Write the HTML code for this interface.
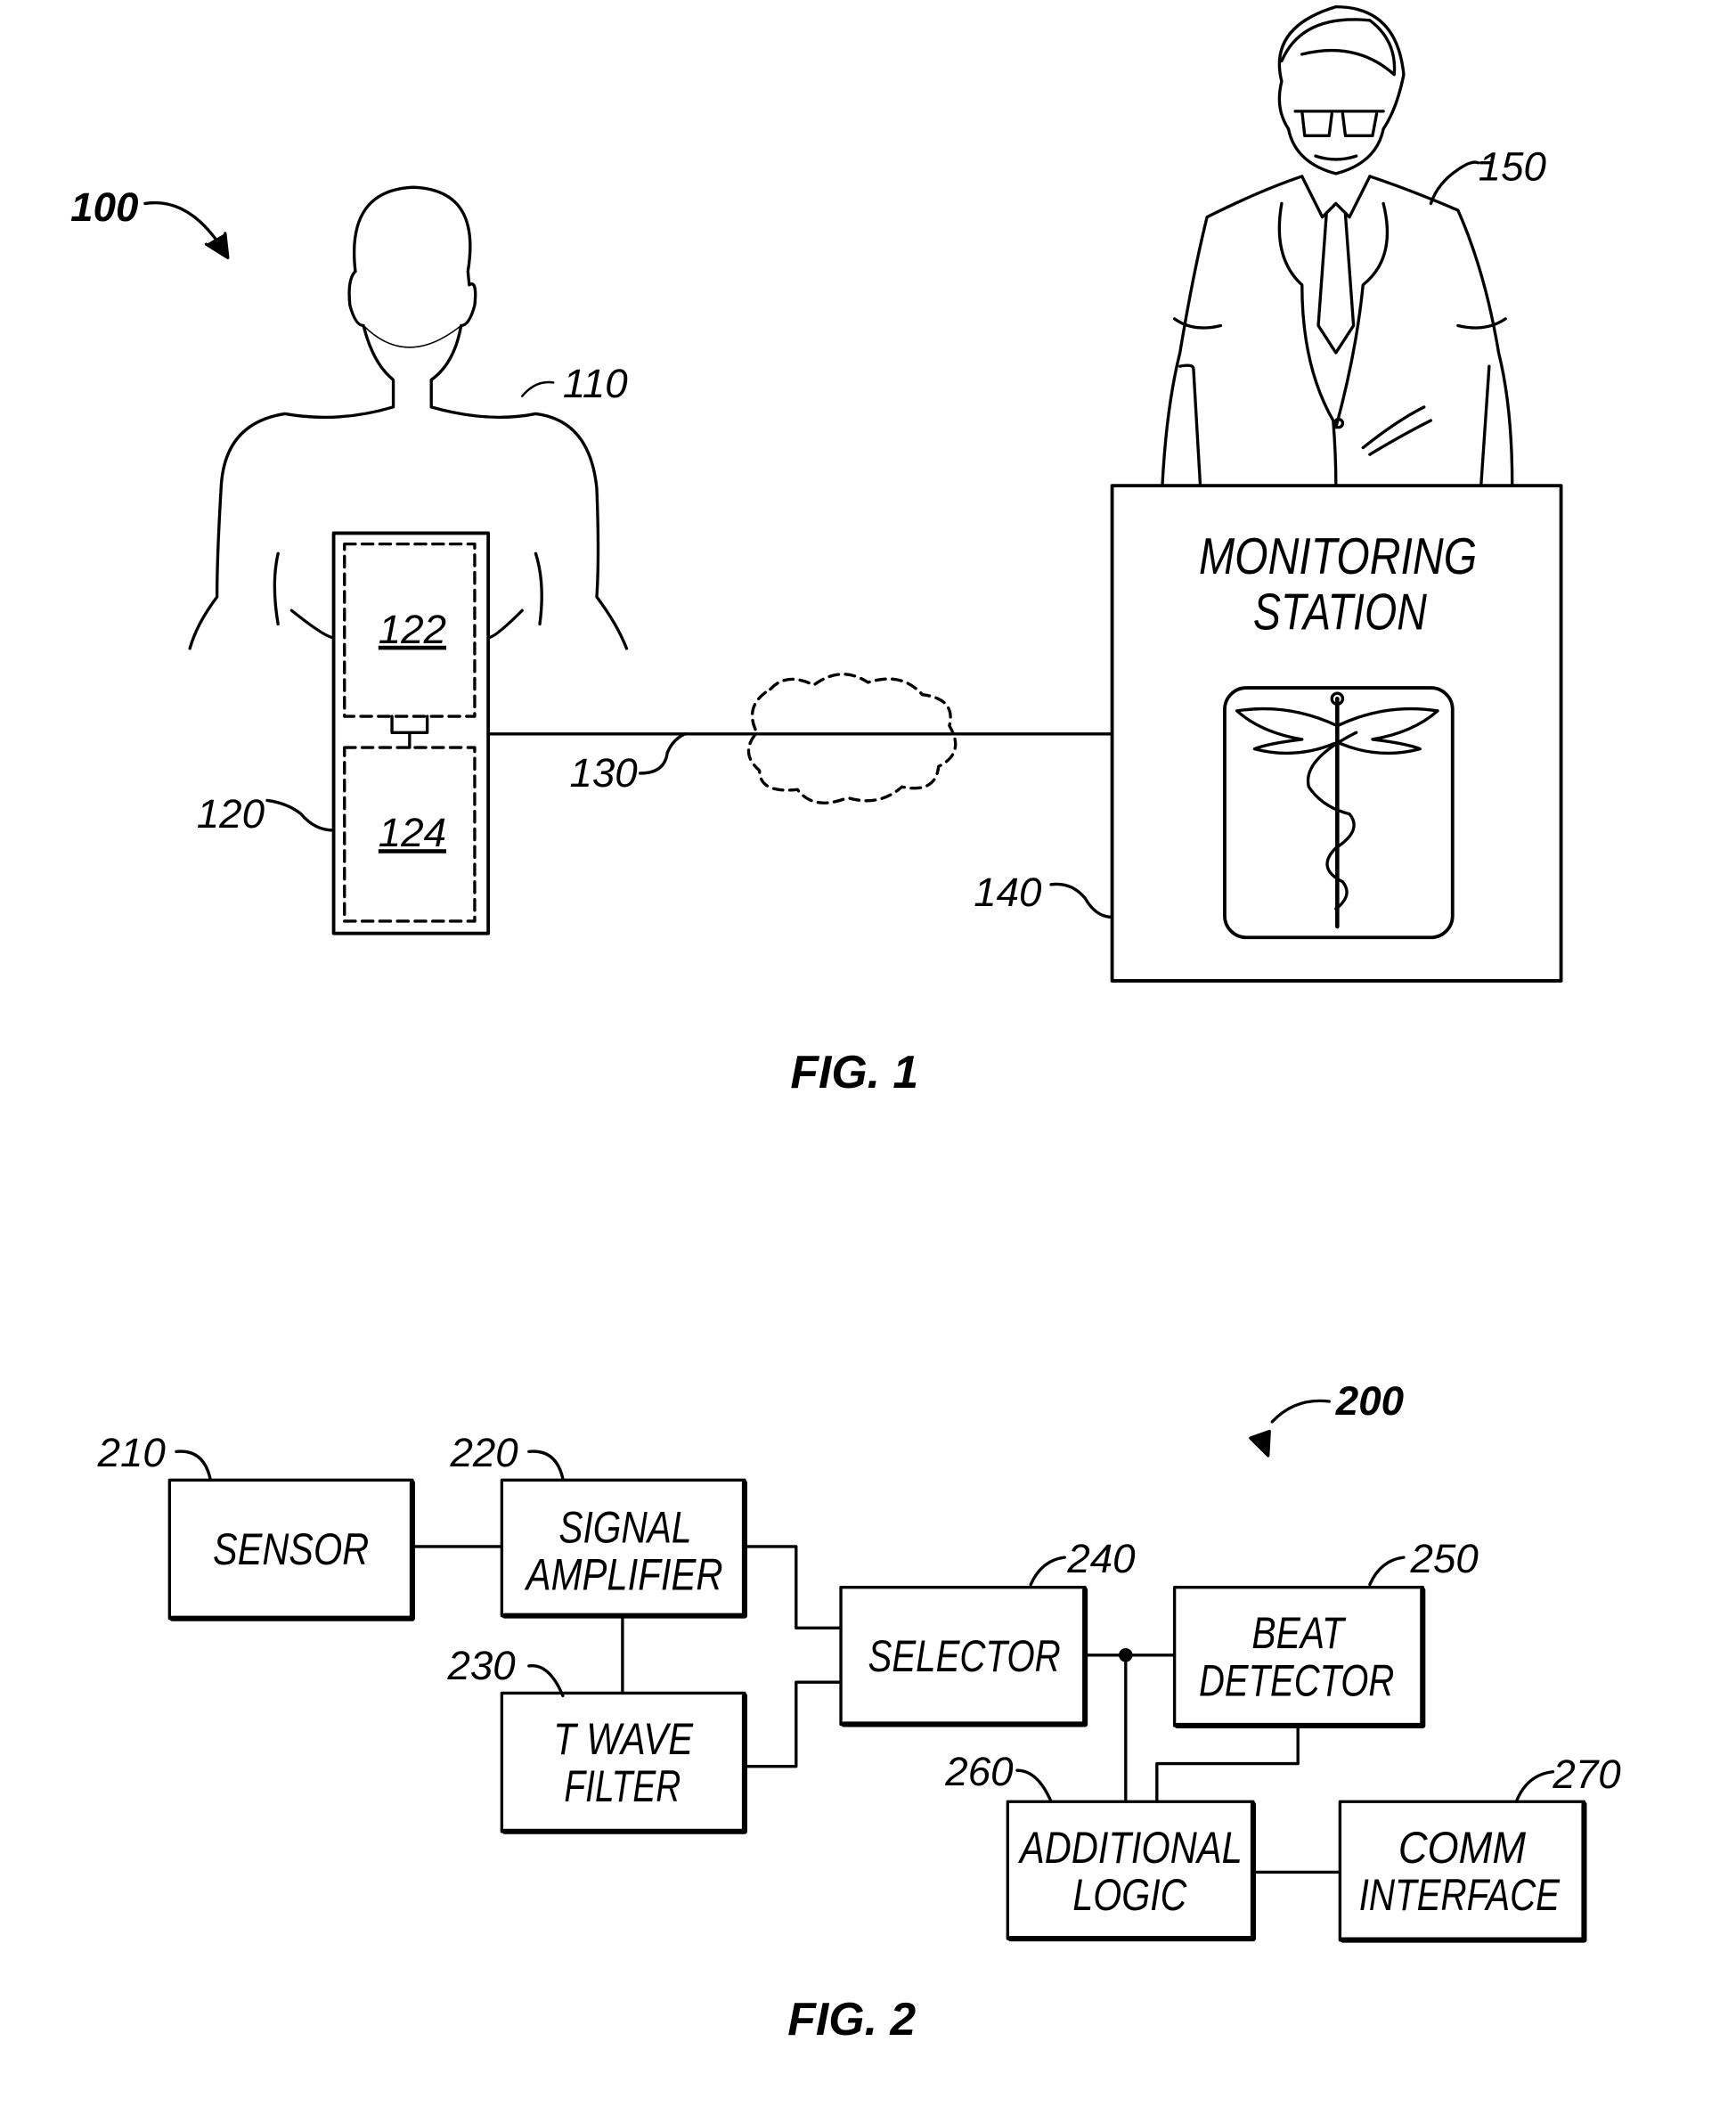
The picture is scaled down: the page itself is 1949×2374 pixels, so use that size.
<!DOCTYPE html>
<html><head><meta charset="utf-8"><style>
html,body{margin:0;padding:0;background:#fff}
svg{display:block}
text{font-family:"Liberation Sans",sans-serif;font-style:italic;fill:#000}
</style></head><body>
<svg width="1949" height="2374" viewBox="0 0 1280 1559" preserveAspectRatio="none" xmlns="http://www.w3.org/2000/svg">
<g fill="none" stroke="#000" stroke-width="2.2" stroke-linecap="round" stroke-linejoin="round">
<path d="M107 150 Q140 145 165 185"/>
<path d="M152 180 L168 190 L166 172" fill="#000"/>
<path d="M262 200 Q255 140 305 138 Q355 140 345 200 L346 210 Q352 206 350 225 Q346 240 340 240 Q335 268 318 280 L318 300 Q360 312 395 305 Q435 310 440 360 Q442 410 440 440 Q455 460 462 478"/>
<path d="M262 200 Q256 206 258 225 Q262 240 268 240 Q275 268 290 280 L290 300 Q250 312 210 305 Q165 312 163 360 Q160 410 160 440 Q145 460 140 478"/>
<path d="M268 240 Q300 272 340 240" stroke-width="1"/>
<path d="M385 292 Q395 280 408 282" stroke-width="1.6"/>
<path d="M205 408 Q200 430 205 460 M395 408 Q402 430 398 460 M215 450 Q240 470 246 470 M385 450 Q365 470 360 470"/>
<rect x="246" y="393" width="114" height="295" stroke-width="2.5"/>
<rect x="254" y="401" width="96" height="127" stroke-dasharray="8,5"/>
<rect x="254" y="551" width="96" height="128" stroke-dasharray="8,5"/>
<path d="M289 528 L289 540 L315 540 L315 528 M302 540 L302 551"/>
<path d="M197 590 Q212 592 222 600 Q232 612 246 612"/>
<path d="M360 541 L820 541"/>
<path d="M472 570 Q490 570 492 555 Q496 545 505 541"/>
<path d="M568 508 Q580 495 600 505 Q620 490 640 503 Q665 495 680 512 Q705 515 700 535 Q712 555 692 565 Q690 585 665 580 Q648 595 625 588 Q600 598 588 582 Q560 585 560 568 Q545 555 558 540 Q548 520 568 508 Z" stroke-dasharray="7,5"/>
<rect x="820" y="358" width="331" height="365" stroke-width="2.5"/>
<rect x="903" y="507" width="168" height="184" rx="16" stroke-width="2.5"/>
<path d="M775 652 Q790 650 800 662 Q808 676 820 676"/>
<path d="M986 515 L986 683" stroke-width="3"/>
<circle cx="986" cy="515" r="4"/>
<path d="M986 535 Q950 518 912 524 Q930 540 960 545 Q935 548 925 552 Q955 560 984 548"/>
<path d="M986 535 Q1022 518 1060 524 Q1042 540 1012 545 Q1037 548 1047 552 Q1017 560 988 548"/>
<path d="M1000 540 Q960 560 965 580 Q975 595 995 600 Q1005 612 985 625 Q970 640 990 650 Q998 660 985 670"/>
<path d="M945 60 Q935 20 985 5 Q1030 5 1035 55 Q1030 80 1020 95 Q1015 120 985 128 Q955 120 950 95 Q940 80 945 60"/>
<path d="M945 45 Q960 10 1010 15 Q1030 30 1028 55 Q1000 30 960 40"/>
<path d="M955 82 L1020 82 M960 82 L962 100 L980 100 L982 84 M990 84 L992 100 L1012 100 L1015 84"/>
<path d="M970 115 Q985 120 1000 115"/>
<path d="M960 130 Q930 140 890 160 Q880 200 870 260 Q860 300 857 358"/>
<path d="M1010 130 Q1040 140 1075 155 Q1095 200 1105 260 Q1115 300 1115 358"/>
<path d="M960 130 L975 160 L985 150 L995 160 L1010 130 M978 158 L972 240 L985 260 L998 240 L992 158"/>
<path d="M945 150 Q938 190 960 210 Q960 270 983 310 Q985 335 985 358 M1020 150 Q1030 190 1005 210 Q1000 260 985 315"/>
<path d="M870 270 Q880 268 880 272 L885 358 M1098 270 L1092 358 M1005 330 Q1030 310 1050 300 M1010 335 Q1035 320 1055 310"/>
<path d="M866 235 Q880 245 900 240 M1075 240 Q1095 245 1110 235"/>
<circle cx="987" cy="312" r="3"/>
<path d="M1055 150 Q1060 135 1075 125 Q1085 118 1090 120 M1092 120 L1100 120"/>
<path d="M938 1048 Q955 1030 980 1033"/>
<path d="M922 1060 L935 1073 L936 1055 Z" fill="#000"/>
<g stroke-width="2.2">
<rect x="125" y="1091" width="179" height="102"/>
<rect x="370" y="1091" width="179" height="100"/>
<rect x="370" y="1248" width="179" height="102"/>
<rect x="620" y="1170" width="180" height="101"/>
<rect x="866" y="1170" width="183" height="102"/>
<rect x="743" y="1328" width="181" height="101"/>
<rect x="988" y="1328" width="180" height="102"/>
</g>
<g stroke-width="4">
<path d="M127 1193 L304 1193 L304 1093"/>
<path d="M372 1191 L549 1191 L549 1093"/>
<path d="M372 1350 L549 1350 L549 1250"/>
<path d="M622 1271 L800 1271 L800 1172"/>
<path d="M868 1272 L1049 1272 L1049 1172"/>
<path d="M745 1429 L924 1429 L924 1330"/>
<path d="M990 1430 L1168 1430 L1168 1330"/>
</g>
<path d="M304 1140 L370 1140 M549 1140 L587 1140 L587 1200 L620 1200 M549 1302 L587 1302 L587 1240 L620 1240 M459 1191 L459 1248 M800 1220 L866 1220 M830 1220 L830 1328 M957 1272 L957 1300 L853 1300 L853 1328 M924 1380 L988 1380"/>
<circle cx="830" cy="1220" r="4" fill="#000"/>
<path d="M130 1070 Q150 1068 155 1090 M390 1070 Q410 1068 415 1090 M390 1228 Q405 1226 415 1250 M760 1168 Q768 1150 785 1148 M1010 1168 Q1018 1150 1035 1148 M750 1305 Q765 1305 775 1328 M1118 1328 Q1126 1308 1145 1306"/>
</g>
<g font-size="30" font-weight="bold"><text x="52" y="163">100</text><text x="985" y="1043">200</text></g>
<g font-size="30">
<text x="1090" y="133">150</text><text x="415" y="293">110</text><text x="145" y="610">120</text><text x="420" y="580">130</text><text x="718" y="668">140</text>
<text x="279" y="474" text-decoration="underline">122</text><text x="279" y="624" text-decoration="underline">124</text>
<text x="884" y="423" font-size="38" textLength="205" lengthAdjust="spacingAndGlyphs">MONITORING</text>
<text x="924" y="464" font-size="38" textLength="128" lengthAdjust="spacingAndGlyphs">STATION</text>
<text x="72" y="1081">210</text><text x="332" y="1081">220</text><text x="330" y="1238">230</text><text x="787" y="1159">240</text><text x="1040" y="1159">250</text><text x="697" y="1316">260</text><text x="1145" y="1318">270</text>
<g font-size="33" lengthAdjust="spacingAndGlyphs">
<text x="157" y="1153" textLength="115" lengthAdjust="spacingAndGlyphs">SENSOR</text>
<text x="412" y="1137" textLength="98" lengthAdjust="spacingAndGlyphs">SIGNAL</text><text x="388" y="1172" textLength="145" lengthAdjust="spacingAndGlyphs">AMPLIFIER</text>
<text x="408" y="1293" textLength="103" lengthAdjust="spacingAndGlyphs">T WAVE</text><text x="416" y="1328" textLength="86" lengthAdjust="spacingAndGlyphs">FILTER</text>
<text x="640" y="1232" textLength="142" lengthAdjust="spacingAndGlyphs">SELECTOR</text>
<text x="923" y="1215" textLength="68" lengthAdjust="spacingAndGlyphs">BEAT</text><text x="884" y="1250" textLength="144" lengthAdjust="spacingAndGlyphs">DETECTOR</text>
<text x="752" y="1373" textLength="164" lengthAdjust="spacingAndGlyphs">ADDITIONAL</text><text x="791" y="1408" textLength="84" lengthAdjust="spacingAndGlyphs">LOGIC</text>
<text x="1031" y="1373" textLength="94" lengthAdjust="spacingAndGlyphs">COMM</text><text x="1002" y="1408" textLength="148" lengthAdjust="spacingAndGlyphs">INTERFACE</text>
</g>
</g>
<g font-size="34" font-weight="bold"><text x="630" y="802" text-anchor="middle">FIG. 1</text><text x="628" y="1500" text-anchor="middle">FIG. 2</text></g>
</svg>
</body></html>
